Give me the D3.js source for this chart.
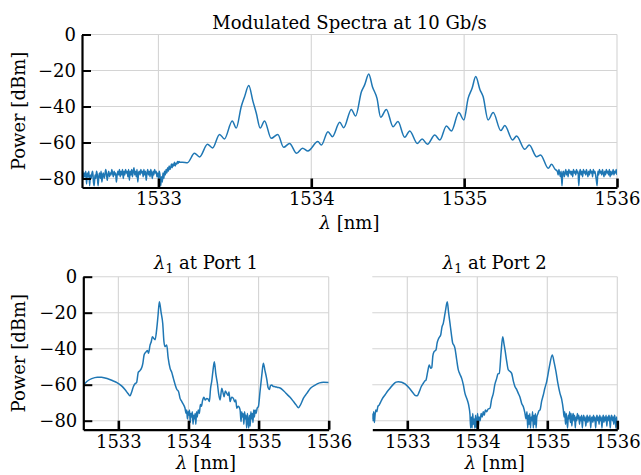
<!DOCTYPE html>
<html><head><meta charset="utf-8">
<script src="https://cdn.jsdelivr.net/npm/d3@7"></script>
<style>
html,body{margin:0;padding:0;background:#fff;}
svg{display:block;}
svg text{font-family:"DejaVu Serif","Liberation Serif",serif;}
</style></head>
<body><svg id="chart" width="641" height="475"></svg>
<script>
// ---------------- DATA ----------------
const xTicks = [1533, 1534, 1535, 1536];
const yTicks = [0, -20, -40, -60, -80];
const xDomain = [1532.5, 1536];
const yDomain = [-85, 0];
const titles = ["Modulated Spectra at 10 Gb/s", "at Port 1", "at Port 2"];
const yLabel = "Power [dBm]";

// modulated spectrum (top), [wavelength nm, power dBm]
const modulatedSpectrum = [
[1532.500,-78],[1532.505,-76],[1532.510,-80],[1532.515,-77],[1532.520,-79],[1532.525,-76],[1532.530,-83],[1532.535,-77],[1532.540,-79],[1532.545,-76],
[1532.550,-84],[1532.555,-78],[1532.560,-80],[1532.565,-77],[1532.570,-76],[1532.575,-82],[1532.580,-84],[1532.585,-78],[1532.590,-80],[1532.595,-76],
[1532.600,-78],[1532.605,-84],[1532.610,-79],[1532.615,-77],[1532.620,-80],[1532.625,-76],[1532.630,-82],[1532.635,-78],[1532.640,-77],[1532.645,-80],
[1532.650,-78],[1532.655,-75],[1532.660,-77],[1532.665,-81],[1532.670,-78],[1532.675,-76],[1532.680,-79],[1532.685,-77],[1532.690,-78],[1532.695,-75],
[1532.700,-77],[1532.705,-79],[1532.710,-76],[1532.715,-78],[1532.720,-77],[1532.725,-82],[1532.730,-78],[1532.735,-76],[1532.740,-78],[1532.745,-75],
[1532.750,-79],[1532.755,-76],[1532.760,-78],[1532.765,-75],[1532.770,-80],[1532.775,-76],[1532.780,-78],[1532.785,-75],[1532.790,-77],[1532.795,-76],
[1532.800,-79],[1532.805,-75],[1532.810,-81],[1532.815,-76],[1532.820,-78],[1532.825,-75],[1532.830,-79],[1532.835,-76],[1532.840,-74],[1532.845,-78],
[1532.850,-76],[1532.855,-79],[1532.860,-75],[1532.865,-82],[1532.870,-77],[1532.875,-76],[1532.880,-78],[1532.885,-75],[1532.890,-77],[1532.895,-76],
[1532.900,-79],[1532.905,-75],[1532.910,-78],[1532.915,-76],[1532.920,-81],[1532.925,-77],[1532.930,-75],[1532.935,-78],[1532.940,-76],[1532.945,-79],
[1532.950,-75],[1532.955,-77],[1532.960,-80],[1532.965,-76],[1532.970,-78],[1532.975,-75],[1532.980,-77],[1532.985,-76],[1532.990,-79],[1532.995,-77],
[1533.000,-80],[1533.005,-76],[1533.010,-78],[1533.015,-84],[1533.020,-79],[1533.025,-82],[1533.030,-77],[1533.035,-80],[1533.040,-76],[1533.045,-78],
[1533.050,-75],[1533.055,-77],[1533.060,-74],[1533.065,-76],[1533.070,-73],[1533.075,-75],[1533.080,-74],[1533.085,-72],[1533.090,-74],[1533.095,-72],
[1533.100,-73],[1533.105,-71],[1533.110,-73],[1533.115,-71.5],[1533.120,-72],[1533.125,-70.5],[1533.130,-71.5],[1533.135,-70.5],[1533.140,-71],
[1533.157,-71],[1533.19,-71.2],[1533.236,-66],[1533.269,-68],
[1533.321,-61],[1533.354,-63],[1533.40,-55.5],[1533.432,-58],[1533.483,-48],[1533.509,-52],[1533.542,-40],[1533.563,-34.7],[1533.591,-28.4],
[1533.618,-37],[1533.64,-43.6],[1533.666,-52],[1533.694,-48],[1533.738,-57.7],[1533.781,-55.5],[1533.819,-62.7],[1533.858,-60.5],
[1533.904,-66],[1533.943,-63.2],[1533.978,-64.7],[1534.043,-59.5],[1534.066,-61.4],[1534.109,-54],[1534.138,-56.8],[1534.186,-48.8],
[1534.212,-51.8],[1534.262,-41.6],[1534.29,-45.3],[1534.328,-31.8],[1534.349,-28],[1534.376,-22],[1534.40,-29],[1534.43,-35.5],
[1534.454,-46],[1534.491,-41.6],[1534.535,-51.2],[1534.567,-48.4],[1534.611,-57.1],[1534.644,-53.6],[1534.694,-60.5],[1534.725,-58],
[1534.76,-61],[1534.808,-55.8],[1534.841,-58.6],[1534.884,-50.8],[1534.917,-53.6],[1534.965,-43.4],[1534.998,-47.5],[1535.026,-35.5],
[1535.052,-29.9],[1535.076,-23.4],[1535.103,-30.5],[1535.124,-34.5],[1535.157,-47.5],[1535.19,-43.4],[1535.24,-53.4],[1535.266,-50.6],
[1535.317,-58.6],[1535.343,-56.4],[1535.397,-63.8],[1535.426,-61.4],[1535.474,-67.9],[1535.50,-66.9],[1535.55,-74.3],[1535.572,-72.1],
[1535.595,-74.9],
[1535.610,-76],[1535.615,-78],[1535.620,-75],[1535.625,-77],[1535.630,-79],[1535.635,-76],[1535.640,-84],[1535.645,-77],[1535.650,-76],[1535.655,-79],
[1535.660,-77],[1535.665,-75],[1535.670,-78],[1535.675,-76],[1535.680,-79],[1535.685,-75],[1535.690,-77],[1535.695,-76],[1535.700,-78],[1535.705,-76],
[1535.710,-79],[1535.715,-75],[1535.720,-77],[1535.725,-76],[1535.730,-78],[1535.735,-75],[1535.740,-77],[1535.745,-76],[1535.750,-84],[1535.755,-77],
[1535.760,-75],[1535.765,-78],[1535.770,-76],[1535.775,-79],[1535.780,-75],[1535.785,-77],[1535.790,-76],[1535.795,-78],[1535.800,-75],[1535.805,-77],
[1535.810,-79],[1535.815,-76],[1535.820,-78],[1535.825,-75],[1535.830,-77],[1535.835,-76],[1535.840,-79],[1535.845,-75],[1535.850,-77],[1535.855,-76],
[1535.860,-78],[1535.865,-81],[1535.870,-84],[1535.875,-76],[1535.880,-78],[1535.885,-75],[1535.890,-77],[1535.895,-76],[1535.900,-78],[1535.905,-75],
[1535.910,-77],[1535.915,-79],[1535.920,-76],[1535.925,-78],[1535.930,-75],[1535.935,-77],[1535.940,-76],[1535.945,-78],[1535.950,-75],[1535.955,-79],
[1535.960,-76],[1535.965,-78],[1535.970,-77],[1535.975,-75],[1535.980,-78],[1535.985,-76],[1535.990,-77],[1535.995,-75],[1536.000,-78]
];

// lambda_1 at Port 1
const port1Spectrum = [
[1532.50,-60.3],[1532.55,-58.2],[1532.62,-56.6],[1532.70,-55.8],[1532.76,-55.9],[1532.84,-56.6],[1532.92,-57.8],[1532.98,-58.8],
[1533.05,-60.8],[1533.10,-63],[1533.14,-65],[1533.167,-66.2],[1533.19,-64],[1533.215,-61],[1533.238,-59.5],[1533.26,-58.8],
[1533.285,-53],[1533.30,-52.5],[1533.334,-50.5],[1533.35,-48],[1533.367,-43.5],[1533.39,-42],[1533.414,-41],[1533.43,-42.5],
[1533.452,-38],[1533.47,-36],[1533.485,-33.3],[1533.50,-34],[1533.524,-35],[1533.548,-28.7],[1533.565,-22],[1533.585,-13.9],
[1533.61,-20],[1533.633,-26],[1533.65,-36],[1533.666,-38.9],[1533.69,-38],[1533.71,-45],[1533.738,-50.9],[1533.76,-53],
[1533.785,-56.5],[1533.81,-60],[1533.833,-62.5],[1533.86,-64],[1533.88,-67.6],[1533.90,-69],[1533.919,-70.4],[1533.935,-71.5],
[1533.951,-73.1],[1533.965,-76],[1533.975,-74],[1533.985,-79],[1533.995,-75],[1534.005,-77],[1534.015,-74],[1534.025,-81],
[1534.035,-76],[1534.045,-78],[1534.055,-75],[1534.065,-82],[1534.075,-77],[1534.085,-79],[1534.095,-76],[1534.105,-82],
[1534.115,-75],[1534.125,-78],[1534.14,-74],[1534.155,-76],[1534.17,-71],[1534.185,-72],[1534.20,-69],[1534.22,-67],
[1534.24,-68.5],[1534.261,-67.6],[1534.28,-68],[1534.298,-69.4],[1534.315,-62],[1534.332,-58],[1534.35,-52],[1534.369,-47.2],
[1534.39,-54],[1534.412,-59.2],[1534.43,-65],[1534.451,-68.5],[1534.475,-62],[1534.49,-64],[1534.508,-66.7],[1534.525,-63.5],
[1534.546,-64.8],[1534.565,-66],[1534.578,-64],[1534.593,-69.4],[1534.615,-67],[1534.641,-67.6],[1534.66,-69.5],[1534.675,-68.5],
[1534.689,-73.1],[1534.71,-72],[1534.736,-74],[1534.75,-80.5],[1534.76,-75],[1534.77,-78],[1534.78,-76],[1534.79,-82],
[1534.80,-75],[1534.81,-79],[1534.82,-77],[1534.83,-84],[1534.84,-76],[1534.85,-80],[1534.86,-84],[1534.87,-77],[1534.88,-83],
[1534.89,-75],[1534.90,-79],[1534.91,-76],[1534.92,-81],[1534.93,-74],[1534.94,-78],[1534.95,-74],[1534.965,-76],[1534.98,-73],
[1534.997,-72.2],[1535.02,-64],[1535.045,-55],[1535.068,-48.1],[1535.09,-52],[1535.117,-57],[1535.135,-61.5],[1535.154,-62.6],
[1535.17,-60.5],[1535.188,-60.2],[1535.21,-61],[1535.235,-61.1],[1535.27,-61.5],[1535.307,-61.8],[1535.36,-63.5],[1535.41,-65.5],
[1535.449,-67],[1535.50,-69.5],[1535.54,-71.5],[1535.568,-72.8],[1535.60,-71],[1535.64,-67.5],[1535.688,-64.8],[1535.74,-62],
[1535.806,-60.2],[1535.87,-59],[1535.924,-58.7],[1536.0,-58.8]
];

// lambda_1 at Port 2
const port2Spectrum = [
[1532.50,-76],[1532.51,-80],[1532.52,-75],[1532.53,-81],[1532.539,-77],[1532.55,-74],[1532.565,-75],[1532.58,-72],[1532.595,-71.5],
[1532.61,-70.4],[1532.64,-68],[1532.681,-65.7],[1532.72,-63.5],[1532.753,-62],[1532.80,-59.8],[1532.84,-58.6],[1532.871,-58.3],
[1532.92,-58.6],[1532.967,-59.6],[1533.03,-62],[1533.086,-64.8],[1533.115,-66],[1533.143,-66.1],[1533.17,-64],[1533.20,-61],
[1533.229,-59.2],[1533.25,-58],[1533.267,-57.4],[1533.29,-53],[1533.314,-49],[1533.335,-50.9],[1533.349,-50.5],[1533.365,-44],
[1533.381,-41.7],[1533.41,-40.7],[1533.425,-37],[1533.443,-34.8],[1533.46,-33.5],[1533.477,-32.4],[1533.495,-28],[1533.514,-25.9],
[1533.545,-19],[1533.571,-13.9],[1533.59,-20],[1533.61,-25.9],[1533.63,-32],[1533.649,-37],[1533.665,-38],[1533.681,-39.8],
[1533.705,-46],[1533.729,-51.8],[1533.75,-54],[1533.777,-56.5],[1533.80,-60],[1533.824,-64.8],[1533.857,-68.5],[1533.88,-72],
[1533.896,-76.8],[1533.905,-84],[1533.915,-78],[1533.925,-84],[1533.935,-76],[1533.945,-82],[1533.955,-79],[1533.965,-84],
[1533.975,-77],[1533.985,-84],[1533.995,-80],[1534.005,-76],[1534.015,-83],[1534.025,-78],[1534.04,-80],[1534.055,-76],
[1534.07,-78],[1534.085,-75],[1534.10,-77],[1534.115,-74],[1534.134,-75],[1534.155,-73.5],[1534.181,-73.1],[1534.205,-68],
[1534.229,-64.8],[1534.25,-60],[1534.277,-56.5],[1534.295,-54],[1534.314,-53.7],[1534.34,-42],[1534.363,-33.3],[1534.38,-37],
[1534.396,-40.7],[1534.42,-47],[1534.443,-51.8],[1534.465,-52.5],[1534.491,-53.7],[1534.515,-58],[1534.539,-61.1],[1534.56,-62.5],
[1534.586,-64.8],[1534.61,-67],[1534.634,-70.4],[1534.66,-72.5],[1534.681,-75.9],[1534.695,-79],[1534.71,-75],[1534.72,-84],
[1534.73,-77],[1534.74,-82],[1534.75,-76],[1534.76,-84],[1534.77,-78],[1534.78,-80],[1534.79,-75],[1534.80,-84],[1534.81,-77],
[1534.82,-82],[1534.83,-76],[1534.84,-84],[1534.85,-78],[1534.867,-76],[1534.88,-74.5],[1534.896,-74],[1534.92,-69],[1534.943,-65.7],
[1534.965,-62],[1534.991,-58.3],[1535.03,-50],[1535.071,-43.5],[1535.10,-48],[1535.124,-52.8],[1535.15,-59],[1535.181,-64.8],
[1535.205,-68],[1535.229,-74],[1535.24,-78],[1535.25,-75],[1535.26,-82],[1535.27,-76],[1535.28,-80],[1535.29,-84],[1535.30,-77],
[1535.31,-79],[1535.32,-75],[1535.33,-81],[1535.34,-76],[1535.35,-83],[1535.36,-78],[1535.37,-76],[1535.38,-80],[1535.39,-77],
[1535.40,-84],[1535.41,-78],[1535.42,-80],[1535.43,-76],[1535.44,-79],[1535.45,-77],[1535.46,-82],[1535.47,-78],[1535.48,-80],
[1535.49,-77],[1535.50,-84],[1535.51,-79],[1535.52,-77],[1535.53,-80],[1535.54,-78],[1535.55,-83],[1535.56,-79],[1535.57,-77],
[1535.58,-81],[1535.59,-78],[1535.60,-80],[1535.61,-77],[1535.62,-84],[1535.63,-79],[1535.64,-78],[1535.65,-81],[1535.66,-77],
[1535.67,-80],[1535.68,-78],[1535.69,-84],[1535.70,-79],[1535.71,-77],[1535.72,-80],[1535.73,-78],[1535.74,-82],[1535.75,-77],
[1535.76,-80],[1535.77,-78],[1535.78,-84],[1535.79,-79],[1535.80,-77],[1535.81,-81],[1535.82,-78],[1535.83,-80],[1535.84,-77],
[1535.85,-83],[1535.86,-78],[1535.87,-80],[1535.88,-77],[1535.89,-79],[1535.90,-84],[1535.91,-78],[1535.92,-77],[1535.93,-80],
[1535.94,-78],[1535.95,-82],[1535.96,-77],[1535.97,-79],[1535.98,-84],[1535.99,-78],[1536.00,-80]
];

// ---------------- DRAW ----------------
const svg = d3.select("#chart");
const FS = 18;
const FONT = "DejaVu Serif, Liberation Serif, serif";
const lineColor = "#1f77b4";
const gridColor = "#d4d4d4";

function panel(id, box, data, opt) {
  const x = d3.scaleLinear().domain(xDomain).range([box.x0, box.x1]);
  const y = d3.scaleLinear().domain(yDomain).range([box.y1, box.y0]);
  const g = svg.append("g").attr("class", id);

  // grid
  g.append("g").selectAll("line").data(xTicks).join("line")
    .attr("x1", d => x(d)).attr("x2", d => x(d))
    .attr("y1", box.y0).attr("y2", box.y1)
    .attr("stroke", gridColor).attr("stroke-width", 1.1);
  g.append("g").selectAll("line").data(yTicks).join("line")
    .attr("x1", box.x0).attr("x2", box.x1)
    .attr("y1", d => y(d)).attr("y2", d => y(d))
    .attr("stroke", gridColor).attr("stroke-width", 1.1);

  // clip
  svg.append("clipPath").attr("id", "clip-" + id).append("rect")
    .attr("x", box.x0).attr("y", box.y0 - 1)
    .attr("width", box.x1 - box.x0).attr("height", box.y1 - box.y0 + 1);

  const line = d3.line().x(d => x(d[0])).y(d => y(d[1])).curve(d3.curveMonotoneX);
  g.append("path").datum(data).attr("d", line)
    .attr("fill", "none").attr("stroke", lineColor).attr("stroke-width", 1.5)
    .attr("stroke-linejoin", "round")
    .attr("clip-path", "url(#clip-" + id + ")");

  // x axis (ticks inward)
  const xa = g.append("g").attr("transform", `translate(0,${box.y1})`)
    .call(d3.axisBottom(x).tickValues(xTicks).tickFormat(d3.format("d"))
      .tickSizeInner(-9).tickSizeOuter(0).tickPadding(opt.xPad));
  xa.attr("font-family", FONT);
  xa.select(".domain").attr("stroke", "#000").attr("stroke-width", 2.2);
  xa.selectAll(".tick line").attr("stroke", "#000").attr("stroke-width", 2.6);
  xa.selectAll(".tick text").attr("font-size", FS).attr("font-family", FONT).attr("fill", "#000");

  if (opt.yAxis) {
    const ya = g.append("g").attr("transform", `translate(${box.x0},0)`)
      .call(d3.axisLeft(y).tickValues(yTicks).tickFormat(d => d === 0 ? "0" : "\u2212" + Math.abs(d))
        .tickSizeInner(-9).tickSizeOuter(0).tickPadding(6));
    ya.attr("font-family", FONT);
    ya.select(".domain").attr("stroke", "#000").attr("stroke-width", 2.2);
    ya.selectAll(".tick line").attr("stroke", "#000").attr("stroke-width", 2);
    ya.selectAll(".tick text").attr("font-size", FS).attr("font-family", FONT).attr("fill", "#000");
    svg.append("text")
      .attr("transform", `translate(25,${(box.y0 + box.y1) / 2}) rotate(-90)`)
      .attr("text-anchor", "middle").attr("font-size", FS).attr("font-family", FONT).text(yLabel);
  }

  // x label
  const xl = svg.append("text").attr("x", (box.x0 + box.x1) / 2).attr("y", opt.xLabelY)
    .attr("text-anchor", "middle").attr("font-size", FS).attr("font-family", FONT);
  xl.append("tspan").attr("font-style", "italic").text("\u03bb");
  xl.append("tspan").text(" [nm]");

  // title
  const t = svg.append("text").attr("x", (box.x0 + box.x1) / 2).attr("y", opt.titleY)
    .attr("text-anchor", "middle").attr("font-size", FS).attr("font-family", FONT);
  if (opt.sub) {
    t.append("tspan").attr("font-style", "italic").text("\u03bb");
    t.append("tspan").attr("font-size", FS * 0.7).attr("dy", 4).text("1");
    t.append("tspan").attr("dy", -4).text(" " + opt.title);
  } else {
    t.text(opt.title);
  }
}

panel("top", {x0: 82, x1: 617, y0: 34.5, y1: 187.5}, modulatedSpectrum,
  {yAxis: true, xPad: 5, xLabelY: 229, titleY: 29, title: titles[0]});
panel("p1", {x0: 83.3, x1: 328.7, y0: 276.7, y1: 429.7}, port1Spectrum,
  {yAxis: true, xPad: 6, xLabelY: 469, titleY: 269, title: titles[1], sub: true});
panel("p2", {x0: 372.3, x1: 617.3, y0: 276.7, y1: 429.7}, port2Spectrum,
  {yAxis: false, xPad: 6, xLabelY: 469, titleY: 269, title: titles[2], sub: true});
</script>
</body></html>
